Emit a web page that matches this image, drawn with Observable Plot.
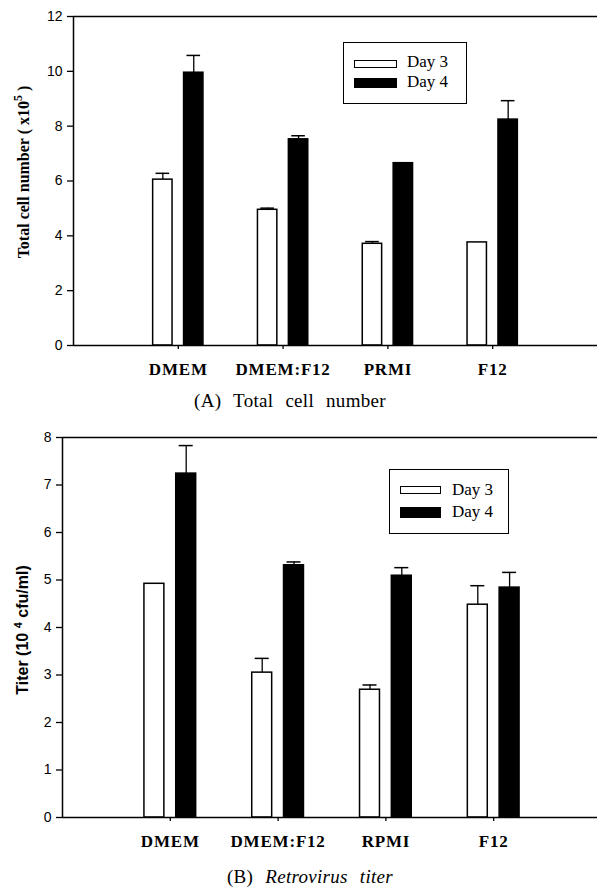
<!DOCTYPE html>
<html><head><meta charset="utf-8">
<script src="https://cdn.jsdelivr.net/npm/d3@7"></script>
<script src="https://cdn.jsdelivr.net/npm/@observablehq/plot@0.6"></script>
<style>
body{margin:0;background:#fff;}
#wrap{position:relative;width:597px;height:892px;overflow:hidden;background:#fff;}
.abs{position:absolute;}
.cap{font-family:"Liberation Serif","Times New Roman",serif;font-size:19px;white-space:nowrap;transform:translate(-50%,-50%);word-spacing:7px;letter-spacing:0.3px;color:#000;}
.ytitle{transform:translate(-50%,-50%) rotate(-90deg);white-space:nowrap;font-weight:bold;color:#000;}
.legend{border:1.5px solid #000;box-sizing:border-box;background:#fff;}
.legtext{font-family:"Liberation Serif","Times New Roman",serif;font-size:17px;transform:translateY(-50%);white-space:nowrap;}
svg g[aria-label="x-axis tick label"] text{letter-spacing:0.8px;}
</style></head><body><div id="wrap"></div>
<script>
// ---- data ----
const mediaA = ["DMEM", "DMEM:F12", "PRMI", "F12"];
const mediaB = ["DMEM", "DMEM:F12", "RPMI", "F12"];
const days = ["Day 3", "Day 4"];
const cellDay3 = [6.05, 4.95, 3.71, 3.76];
const cellDay3Err = [0.23, 0.06, 0.08, 0];
const cellDay4 = [9.95, 7.52, 6.65, 8.24];
const cellDay4Err = [0.63, 0.13, 0, 0.69];
const titerDay3 = [4.92, 3.05, 2.69, 4.48];
const titerDay3Err = [0, 0.30, 0.10, 0.40];
const titerDay4 = [7.24, 5.31, 5.09, 4.84];
const titerDay4Err = [0.59, 0.07, 0.17, 0.32];
const ticksA = [0, 2, 4, 6, 8, 10, 12];
const ticksB = [0, 1, 2, 3, 4, 5, 6, 7, 8];

const wrap = document.getElementById("wrap");

function rows(labels, v3, e3, v4, e4) {
  const out = [];
  labels.forEach((m, i) => {
    out.push({pos: i + 1, label: m, day: days[0], value: v3[i], err: e3[i]});
    out.push({pos: i + 1, label: m, day: days[1], value: v4[i], err: e4[i]});
  });
  return out;
}
const off = {"Day 3": [-0.24, -0.055], "Day 4": [0.055, 0.24]};
const mid = d => d.pos + (off[d.day][0] + off[d.day][1]) / 2;

function chart({data, labels, ticks, ymax, height, marginTop, marginBottom, marginLeft, marginRight}) {
  const eb = data.filter(d => d.err > 0);
  return Plot.plot({
    width: 597, height, marginTop, marginBottom, marginLeft, marginRight,
    style: {fontFamily: "'Liberation Sans', Arial, sans-serif", fontSize: "14px", background: "transparent", color: "#000"},
    x: {domain: [0, 5]},
    y: {domain: [0, ymax]},
    marks: [
      Plot.ruleX(eb, {x: mid, y1: "value", y2: d => d.value + d.err, stroke: "#000", strokeWidth: 1.3}),
      Plot.ruleY(eb, {y: d => d.value + d.err, x1: d => mid(d) - 0.065, x2: d => mid(d) + 0.065, stroke: "#000", strokeWidth: 1.5}),
      Plot.rect(data, {
        x1: d => d.pos + off[d.day][0], x2: d => d.pos + off[d.day][1],
        y1: 0, y2: "value",
        fill: d => d.day === "Day 3" ? "#fff" : "#000",
        stroke: "#000", strokeWidth: 1.5
      }),
      Plot.ruleY([ymax], {stroke: "#000", strokeWidth: 1.5}),
      Plot.ruleY([0], {stroke: "#000", strokeWidth: 1.5}),
      Plot.ruleX([0], {stroke: "#000", strokeWidth: 1.5}),
      Plot.axisY({ticks, tickSize: 6, tickPadding: 5, label: null, fontSize: 14, strokeWidth: 1.3}),
      Plot.axisX({ticks: [1, 2, 3, 4], tickFormat: t => labels[t - 1], tickSize: 4, tickPadding: 13, label: null,
        fontFamily: "'Liberation Serif', 'Times New Roman', serif", fontWeight: "bold", fontSize: 17, strokeWidth: 1.3})
    ]
  });
}

function place(el, left, top) {
  el.style.position = "absolute"; el.style.left = left + "px"; el.style.top = top + "px";
  wrap.appendChild(el);
}
function div(cls, html, left, top, extra) {
  const d = document.createElement("div");
  d.className = "abs " + cls; d.innerHTML = html;
  d.style.left = left + "px"; d.style.top = top + "px";
  if (extra) Object.assign(d.style, extra);
  wrap.appendChild(d);
  return d;
}
function legend(x, y, w, h, sw, swW, y3, h3, y4, h4, tx, ty3, ty4) {
  div("legend", "", x, y, {width: w + "px", height: h + "px"});
  div("", "", sw, y3, {width: swW + "px", height: h3 + "px", border: "1.5px solid #000", boxSizing: "border-box", background: "#fff"});
  div("", "", sw, y4, {width: swW + "px", height: h4 + "px", background: "#000"});
  div("legtext", days[0], tx, ty3);
  div("legtext", days[1], tx, ty4);
}

// Panel A
const svgA = chart({data: rows(mediaA, cellDay3, cellDay3Err, cellDay4, cellDay4Err), labels: mediaA, ticks: ticksA, ymax: 12,
  height: 385, marginTop: 16, marginBottom: 40, marginLeft: 73, marginRight: 0});
place(svgA, 0, 0);
legend(343, 42, 124, 62, 354, 43, 60, 8, 78, 10, 407, 62, 82);
div("ytitle", "Total cell number ( x10<sup style='font-size:12px'>5</sup> )", 22, 172,
  {fontFamily: "'Liberation Serif','Times New Roman',serif", fontSize: "16px"});
div("cap", "(A) Total cell number", 290, 401);

// Panel B
const svgB = chart({data: rows(mediaB, titerDay3, titerDay3Err, titerDay4, titerDay4Err), labels: mediaB, ticks: ticksB, ymax: 8,
  height: 445, marginTop: 22, marginBottom: 43, marginLeft: 62, marginRight: -4});
place(svgB, 0, 415);
legend(389, 469, 120, 65, 400, 41, 486, 8, 507, 11, 452, 490, 512);
div("ytitle", "Titer (10 <sup style='font-size:11px'>4</sup> cfu/ml)", 22, 630,
  {fontFamily: "'Liberation Sans', Arial, sans-serif", fontSize: "16px"});
div("cap", "(B) <i>Retrovirus titer</i>", 310, 877);
</script>
</body></html>
